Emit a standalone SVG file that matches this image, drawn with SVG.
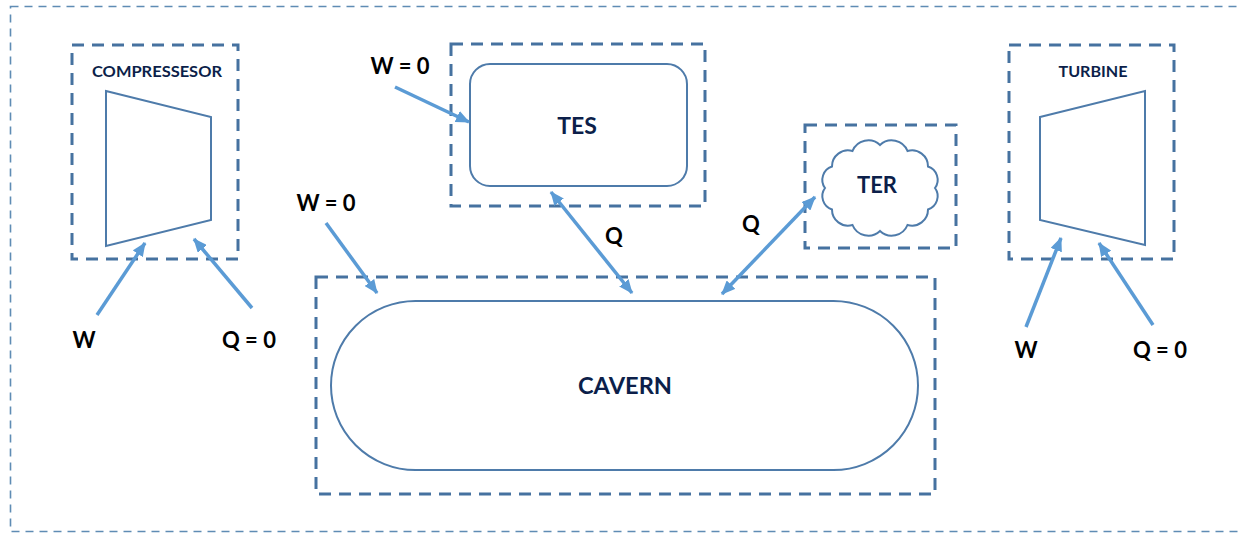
<svg xmlns="http://www.w3.org/2000/svg" width="1238" height="535" viewBox="0 0 1238 535">
<style>
.frame{fill:none;stroke:#5F8CB4;stroke-width:1.6;stroke-dasharray:8 6}
.box{fill:none;stroke:#4672A0;stroke-width:3;stroke-dasharray:12 8}
.shape{fill:#fff;stroke:#4E7BAA;stroke-width:2}
.conn{stroke:#5B9BD5;stroke-width:3.5;fill:none}
.lbl{font-family:Lato,"Open Sans","Liberation Sans",sans-serif;font-weight:700;fill:#0C1F4A;text-anchor:middle}
.flow{font-family:Lato,"Open Sans","Liberation Sans",sans-serif;font-weight:700;fill:#000;font-size:22px;text-anchor:middle}
</style>
<defs>
<marker id="ah" viewBox="0 0 14 12" refX="13" refY="6" markerWidth="14" markerHeight="12" markerUnits="userSpaceOnUse" orient="auto-start-reverse">
<path d="M0,0 L14,6 L0,12 z" fill="#5B9BD5"/>
</marker>
</defs>
<rect width="1238" height="535" fill="#fff"/>
<rect class="frame" x="10.5" y="6.5" width="1240" height="525"/>

<g id="compressor">
<rect class="box" x="72" y="45" width="166" height="214"/>
<polygon class="shape" points="106,91 211,117 211,220 106,246"/>
<text class="lbl" x="157" y="77" font-size="15" textLength="130" lengthAdjust="spacingAndGlyphs">COMPRESSESOR</text>
</g>

<g id="tes">
<rect class="box" x="451" y="44" width="254" height="162"/>
<rect class="shape" x="470" y="64" width="217" height="122" rx="20" ry="20"/>
<text class="lbl" x="577" y="134" font-size="23">TES</text>
</g>

<g id="ter">
<rect class="box" x="805" y="125" width="151" height="123"/>
<path class="shape" d="M935,188 A14,14 0 0 1 928,209.5 A16,16 0 0 1 907.5,225 A17,17 0 0 1 880,231 A17,17 0 0 1 852.5,225 A16,16 0 0 1 832,209.5 A14,14 0 0 1 825,188 A14,14 0 0 1 832,166.5 A16,16 0 0 1 852.5,151 A17,17 0 0 1 880,145 A17,17 0 0 1 907.5,151 A16,16 0 0 1 928,166.5 A14,14 0 0 1 935,188 Z"/>
<text class="lbl" x="877" y="193" font-size="22">TER</text>
</g>

<g id="turbine">
<rect class="box" x="1009" y="45" width="165" height="214"/>
<polygon class="shape" points="1040,117 1145,91 1145,245 1040,220"/>
<text class="lbl" x="1093" y="77" font-size="15" textLength="69" lengthAdjust="spacingAndGlyphs">TURBINE</text>
</g>

<g id="cavern">
<rect class="box" x="316" y="277" width="619" height="217"/>
<rect class="shape" x="331" y="301" width="587" height="169" rx="84.5" ry="84.5"/>
<text class="lbl" x="625" y="394" font-size="23" textLength="94" lengthAdjust="spacingAndGlyphs">CAVERN</text>
</g>

<g id="connectors">
<line class="conn" x1="97" y1="315" x2="145" y2="243" marker-end="url(#ah)"/>
<line class="conn" x1="252" y1="308" x2="194" y2="239" marker-end="url(#ah)"/>
<line class="conn" x1="395" y1="87" x2="469" y2="122" marker-end="url(#ah)"/>
<line class="conn" x1="326" y1="223" x2="377" y2="293" marker-end="url(#ah)"/>
<line class="conn" x1="551" y1="192" x2="632" y2="293" marker-start="url(#ah)" marker-end="url(#ah)"/>
<line class="conn" x1="722" y1="294" x2="815" y2="197" marker-start="url(#ah)" marker-end="url(#ah)"/>
<line class="conn" x1="1026" y1="327" x2="1061" y2="238" marker-end="url(#ah)"/>
<line class="conn" x1="1153" y1="325" x2="1099" y2="243" marker-end="url(#ah)"/>
</g>

<g id="labels">
<text class="flow" x="400" y="74">W = 0</text>
<text class="flow" x="326" y="211">W = 0</text>
<text class="flow" x="614" y="244">Q</text>
<text class="flow" x="751" y="232">Q</text>
<text class="flow" x="84" y="348">W</text>
<text class="flow" x="249" y="348">Q = 0</text>
<text class="flow" x="1026" y="358">W</text>
<text class="flow" x="1160" y="358">Q = 0</text>
</g>
</svg>
